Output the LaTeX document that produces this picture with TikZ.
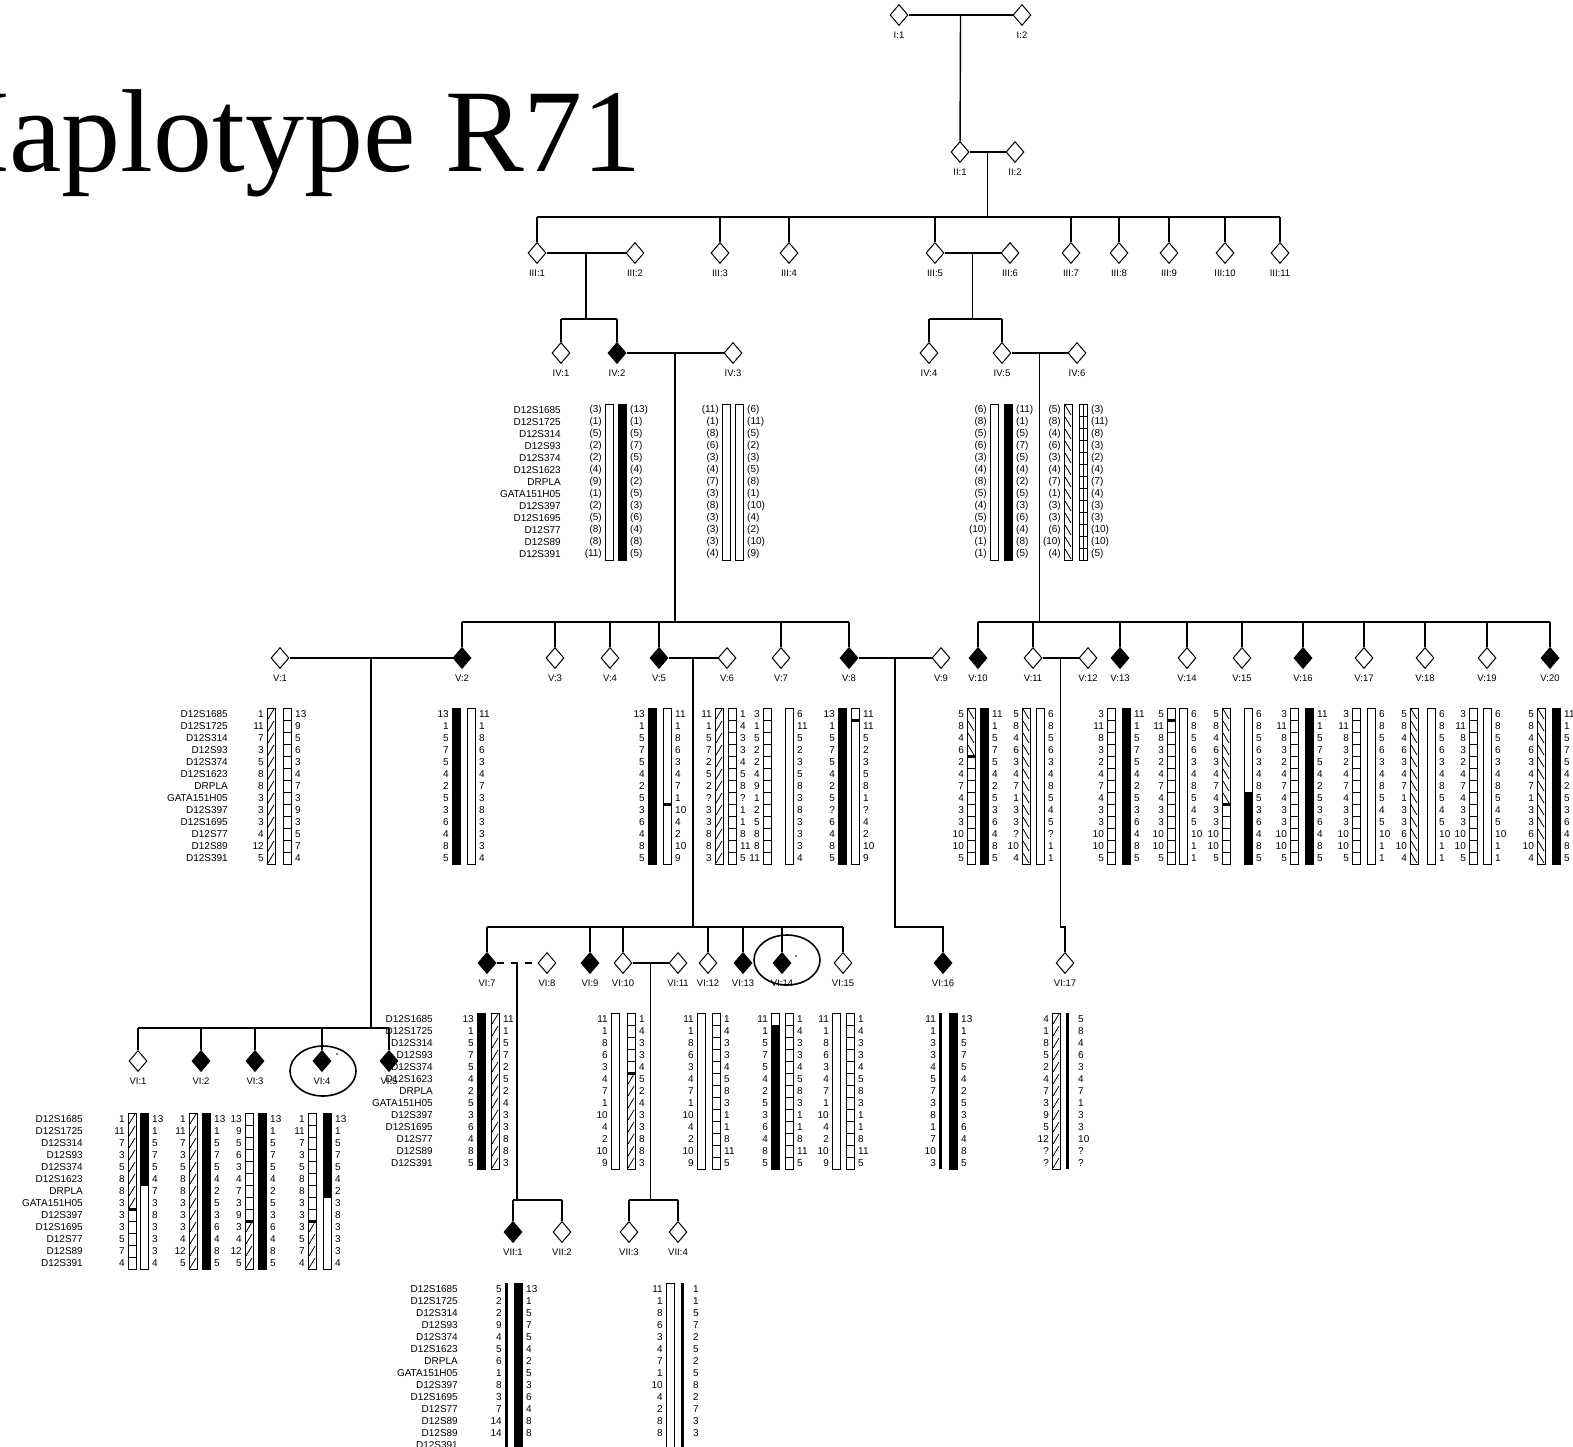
\documentclass[tikz,border=0pt]{standalone}
\usepackage{fontspec}
\setmainfont{Liberation Serif}
\newfontfamily\pixfont{Liberation Sans}
\usetikzlibrary{shapes.geometric, positioning, calc}

\newcommand{\hrow}{12}
\newcommand{\hwid}{8}
\newcommand{\mklist}{D12S1685,D12S1725,D12S314,D12S93,D12S374,D12S1623,DRPLA,GATA151H05,D12S397,D12S1695,D12S77,D12S89,D12S391}
\newcommand{\mklistb}{D12S1685,D12S1725,D12S314,D12S93,D12S374,D12S1623,DRPLA,GATA151H05,D12S397,D12S1695,D12S77,D12S89,D12S89,D12S391}

% bar segments: {x}{top}{first row}{last row}
\newcommand{\sego}[4]{\draw[barline, fill=white] (#1,{#2+(#3-1)*\hrow}) rectangle ({#1+\hwid},{#2+#4*\hrow});}
\newcommand{\segf}[4]{\draw[barline, fill=black] (#1,{#2+(#3-1)*\hrow}) rectangle ({#1+\hwid},{#2+#4*\hrow});}
\newcommand{\segd}[4]{\sego{#1}{#2}{#3}{#4}%
  \foreach \rr in {#3,...,#4}{\draw[hatchline] ({#1+1},{#2+\rr*\hrow-1}) -- ({#1+\hwid-1},{#2+(\rr-1)*\hrow+1});}}
\newcommand{\segb}[4]{\sego{#1}{#2}{#3}{#4}%
  \foreach \rr in {#3,...,#4}{\draw[hatchline] ({#1+1},{#2+(\rr-1)*\hrow+1}) -- ({#1+\hwid-1},{#2+\rr*\hrow-1});}}
\newcommand{\segg}[4]{\foreach \rr in {#3,...,#4}{\draw[barline, fill=white] (#1,{#2+(\rr-1)*\hrow}) rectangle ({#1+\hwid},{#2+\rr*\hrow});}}
\newcommand{\segl}[4]{\segg{#1}{#2}{#3}{#4}\draw[barline] ({#1+\hwid/2},{#2+(#3-1)*\hrow}) -- ({#1+\hwid/2},{#2+#4*\hrow});}
\newcommand{\segk}[4]{\fill (#1,{#2+#3*\hrow-1.5}) rectangle ({#1+\hwid},{#2+#3*\hrow+1.5});}
\newcommand{\segt}[4]{\fill (#1,{#2+(#3-1)*\hrow}) rectangle ({#1+3},{#2+#4*\hrow});}

% haplotype pair: name, x bar 1, x bar 2, top, bar 1, bar 2, left alleles, right alleles
\newcommand{\hapblock}[8]{%
  \foreach \sk/\sa/\sz in {#5}{\csname seg\sk\endcsname{#2}{#4}{\sa}{\sz}}
  \foreach \sk/\sa/\sz in {#6}{\csname seg\sk\endcsname{#3}{#4}{\sa}{\sz}}
  \foreach \v [count=\i] in {#7}{\node[allele, anchor=east] (#1l\i) at ({#2-3},{#4+(\i-0.5)*\hrow}) {\v};}
  \foreach \v [count=\i] in {#8}{\node[allele, anchor=west] (#1r\i) at ({#3+\hwid+4},{#4+(\i-0.5)*\hrow}) {\v};}
}
\newcommand{\markers}[4]{%
  \foreach \m [count=\i] in #4 {\node[marker, anchor=east] (#1\i) at (#2,{#3+(\i-0.5)*\hrow}) {\m};}}
\newcommand{\indiv}[5]{\node[#5] (#1) at (#2,#3) {}; \node[genlab] (#1t) at (#2,{#3+20}) {#4};}

\begin{document}
\begin{tikzpicture}[
    x=1pt, y=-1pt,
    pedline/.style={line width=1.4pt},
    spousedash/.style={line width=1.4pt, dash pattern=on 7pt off 7pt},
    sound/.style={diamond, draw, line width=1pt, fill=white, minimum width=18pt, minimum height=21pt, inner sep=0pt},
    affected/.style={sound, fill=black},
    genlab/.style={font=\pixfont\fontsize{9.5}{10}\selectfont, inner sep=0pt},
    allele/.style={font=\pixfont\fontsize{10}{10}\selectfont, inner sep=0pt},
    marker/.style={allele},
    barline/.style={line width=1pt},
    hatchline/.style={line width=0.8pt},
    ring/.style={ellipse, draw, line width=1.6pt, minimum width=66pt, minimum height=50pt, inner sep=0pt},
    title/.style={font=\fontsize{118}{122}\selectfont, inner sep=0pt}]

    \useasboundingbox (0,0) rectangle (1573,1446);

    \node[title, anchor=base west] (title) at (-76,171) {Haplotype R71};

    % Generations I and II
    \indiv{I1}{899}{15}{I:1}{sound}
    \indiv{I2}{1022}{15}{I:2}{sound}
    \indiv{II1}{960}{152}{II:1}{sound}
    \indiv{II2}{1015}{152}{II:2}{sound}

    % Generation III
    \indiv{III1}{537}{253}{III:1}{sound}
    \indiv{III2}{635}{253}{III:2}{sound}
    \indiv{III3}{720}{253}{III:3}{sound}
    \indiv{III4}{789}{253}{III:4}{sound}
    \indiv{III5}{935}{253}{III:5}{sound}
    \indiv{III6}{1010}{253}{III:6}{sound}
    \indiv{III7}{1071}{253}{III:7}{sound}
    \indiv{III8}{1119}{253}{III:8}{sound}
    \indiv{III9}{1169}{253}{III:9}{sound}
    \indiv{III10}{1225}{253}{III:10}{sound}
    \indiv{III11}{1280}{253}{III:11}{sound}

    % Generation IV
    \indiv{IV1}{561}{353}{IV:1}{sound}
    \indiv{IV2}{617}{353}{IV:2}{affected}
    \indiv{IV3}{733}{353}{IV:3}{sound}
    \indiv{IV4}{929}{353}{IV:4}{sound}
    \indiv{IV5}{1002}{353}{IV:5}{sound}
    \indiv{IV6}{1077}{353}{IV:6}{sound}

    % Generation V
    \indiv{V1}{280}{658}{V:1}{sound}
    \indiv{V2}{462}{658}{V:2}{affected}
    \indiv{V3}{555}{658}{V:3}{sound}
    \indiv{V4}{610}{658}{V:4}{sound}
    \indiv{V5}{659}{658}{V:5}{affected}
    \indiv{V6}{727}{658}{V:6}{sound}
    \indiv{V7}{781}{658}{V:7}{sound}
    \indiv{V8}{849}{658}{V:8}{affected}
    \indiv{V9}{941}{658}{V:9}{sound}
    \indiv{V10}{978}{658}{V:10}{affected}
    \indiv{V11}{1033}{658}{V:11}{sound}
    \indiv{V12}{1088}{658}{V:12}{sound}
    \indiv{V13}{1120}{658}{V:13}{affected}
    \indiv{V14}{1187}{658}{V:14}{sound}
    \indiv{V15}{1242}{658}{V:15}{sound}
    \indiv{V16}{1303}{658}{V:16}{affected}
    \indiv{V17}{1364}{658}{V:17}{sound}
    \indiv{V18}{1425}{658}{V:18}{sound}
    \indiv{V19}{1487}{658}{V:19}{sound}
    \indiv{V20}{1550}{658}{V:20}{affected}

    % Generation VI
    \indiv{VI1}{138}{1061}{VI:1}{sound}
    \indiv{VI2}{201}{1061}{VI:2}{affected}
    \indiv{VI3}{255}{1061}{VI:3}{affected}
    \indiv{VI4}{322}{1061}{VI:4}{affected}
    \indiv{VI5}{389}{1061}{VI:5}{affected}
    \indiv{VI7}{487}{963}{VI:7}{affected}
    \indiv{VI8}{547}{963}{VI:8}{sound}
    \indiv{VI9}{590}{963}{VI:9}{affected}
    \indiv{VI10}{623}{963}{VI:10}{sound}
    \indiv{VI11}{678}{963}{VI:11}{sound}
    \indiv{VI12}{708}{963}{VI:12}{sound}
    \indiv{VI13}{743}{963}{VI:13}{affected}
    \indiv{VI14}{782}{963}{VI:14}{affected}
    \indiv{VI15}{843}{963}{VI:15}{sound}
    \indiv{VI16}{943}{963}{VI:16}{affected}
    \indiv{VI17}{1065}{963}{VI:17}{sound}

    % Generation VII
    \indiv{VII1}{513}{1232}{VII:1}{affected}
    \indiv{VII2}{562}{1232}{VII:2}{sound}
    \indiv{VII3}{629}{1232}{VII:3}{sound}
    \indiv{VII4}{678}{1232}{VII:4}{sound}

    % Sibship levels
    \coordinate (sIII) at (0,217);
    \coordinate (sIV) at (0,319);
    \coordinate (sV) at (0,622);
    \coordinate (sVIa) at (0,1028);
    \coordinate (sVIb) at (0,927);
    \coordinate (sVII) at (0,1200);

    % Marriages and descent lines
    \draw[pedline] (I1) -- coordinate[midway] (mI) (I2);
    \draw[pedline] (mI) -- (II1);
    \draw[pedline] (II1) -- coordinate[midway] (mII) (II2);
    \draw[pedline] (mII) -- (mII |- sIII);
    \draw[pedline] (III1 |- sIII) -- (III11 |- sIII);
    \foreach \c in {III1,III3,III4,III5,III7,III8,III9,III10,III11}
        \draw[pedline] (\c |- sIII) -- (\c);

    \draw[pedline] (III1) -- coordinate[midway] (mIIIa) (III2);
    \draw[pedline] (mIIIa) -- (mIIIa |- sIV);
    \draw[pedline] (IV1 |- sIV) -- (IV2 |- sIV);
    \foreach \c in {IV1,IV2} \draw[pedline] (\c |- sIV) -- (\c);
    \draw[pedline] (III5) -- coordinate[midway] (mIIIb) (III6);
    \draw[pedline] (mIIIb) -- (mIIIb |- sIV);
    \draw[pedline] (IV4 |- sIV) -- (IV5 |- sIV);
    \foreach \c in {IV4,IV5} \draw[pedline] (\c |- sIV) -- (\c);

    \draw[pedline] (IV2) -- coordinate[midway] (mIVa) (IV3);
    \draw[pedline] (mIVa) -- (mIVa |- sV);
    \draw[pedline] (V2 |- sV) -- (V8 |- sV);
    \foreach \c in {V2,V3,V4,V5,V7,V8} \draw[pedline] (\c |- sV) -- (\c);
    \draw[pedline] (IV5) -- coordinate[midway] (mIVb) (IV6);
    \draw[pedline] (mIVb) -- (mIVb |- sV);
    \draw[pedline] (V10 |- sV) -- (V20 |- sV);
    \foreach \c in {V10,V11,V13,V14,V15,V16,V17,V18,V19,V20} \draw[pedline] (\c |- sV) -- (\c);

    \draw[pedline] (V1) -- coordinate[midway] (mVa) (V2);
    \draw[pedline] (mVa) -- (mVa |- sVIa);
    \draw[pedline] (VI1 |- sVIa) -- (VI5 |- sVIa);
    \foreach \c in {VI1,VI2,VI3,VI4,VI5} \draw[pedline] (\c |- sVIa) -- (\c);
    \draw[pedline] (V5) -- coordinate[midway] (mVb) (V6);
    \draw[pedline] (mVb) -- (mVb |- sVIb);
    \draw[pedline] (VI7 |- sVIb) -- (VI15 |- sVIb);
    \foreach \c in {VI7,VI9,VI10,VI12,VI13,VI14,VI15} \draw[pedline] (\c |- sVIb) -- (\c);
    \draw[pedline] (V8) -- coordinate[midway] (mVc) (V9);
    \draw[pedline] (mVc) -- (mVc |- sVIb) -| (VI16);
    \draw[pedline] (V11) -- coordinate[midway] (mVd) (V12);
    \draw[pedline] (mVd) -- (mVd |- sVIb) -| (VI17);

    \draw[spousedash] (VI7) -- coordinate[midway] (mVIa) (VI8);
    \draw[pedline] (mVIa) -- (mVIa |- sVII);
    \draw[pedline] (VII1 |- sVII) -- (VII2 |- sVII);
    \foreach \c in {VII1,VII2} \draw[pedline] (\c |- sVII) -- (\c);
    \draw[pedline] (VI10) -- coordinate[midway] (mVIb) (VI11);
    \draw[pedline] (mVIb) -- (mVIb |- sVII);
    \draw[pedline] (VII3 |- sVII) -- (VII4 |- sVII);
    \foreach \c in {VII3,VII4} \draw[pedline] (\c |- sVII) -- (\c);

    % Probands
    \node[ring] (ringVI14) at (787,960) {};
    \node[ring] (ringVI4) at (323,1071) {};
    \fill (796,956) circle (0.9);
    \fill (337,1054) circle (0.9);

    % Marker columns
    \markers{mkIV}{561}{404}{\mklist}
    \markers{mkV}{228}{708}{\mklist}
    \markers{mkVIb}{433}{1013}{\mklist}
    \markers{mkVIa}{83}{1113}{\mklist}
    \markers{mkVII}{458}{1283}{\mklistb}

    % Haplotypes, generation IV
    \hapblock{hIVb}{605}{618}{404}{o/1/13}{f/1/13}{(3),(1),(5),(2),(2),(4),(9),(1),(2),(5),(8),(8),(11)}{(13),(1),(5),(7),(5),(4),(2),(5),(3),(6),(4),(8),(5)}
    \hapblock{hIVc}{722}{735}{404}{o/1/13}{o/1/13}{(11),(1),(8),(6),(3),(4),(7),(3),(8),(3),(3),(3),(4)}{(6),(11),(5),(2),(3),(5),(8),(1),(10),(4),(2),(10),(9)}
    \hapblock{hIVe}{990}{1004}{404}{o/1/13}{f/1/13}{(6),(8),(5),(6),(3),(4),(8),(5),(4),(5),(10),(1),(1)}{(11),(1),(5),(7),(5),(4),(2),(5),(3),(6),(4),(8),(5)}
    \hapblock{hIVf}{1064}{1079}{404}{b/1/13}{l/1/13}{(5),(8),(4),(6),(3),(4),(7),(1),(3),(3),(6),(10),(4)}{(3),(11),(8),(3),(2),(4),(7),(4),(3),(3),(10),(10),(5)}

    % Haplotypes, generation V
    \hapblock{hVa}{267}{283}{708}{d/1/13}{g/1/13}{1,11,7,3,5,8,8,3,3,3,4,12,5}{13,9,5,6,3,4,7,3,9,3,5,7,4}
    \hapblock{hVb}{452}{467}{708}{f/1/13}{o/1/13}{13,1,5,7,5,4,2,5,3,6,4,8,5}{11,1,8,6,3,4,7,3,8,3,3,3,4}
    \hapblock{hVe}{648}{663}{708}{f/1/13}{o/1/13,k/8/8}{13,1,5,7,5,4,2,5,3,6,4,8,5}{11,1,8,6,3,4,7,1,10,4,2,10,9}
    \hapblock{hVf}{715}{728}{708}{d/1/13}{g/1/13}{11,1,5,7,2,5,2,?,3,3,8,8,3}{1,4,3,3,4,5,8,?,1,1,8,11,5}
    \hapblock{hVg}{763}{785}{708}{g/1/13}{o/1/13}{3,1,5,2,2,4,9,1,2,5,8,8,11}{6,11,5,2,3,5,8,3,8,3,3,3,4}
    \hapblock{hVh}{838}{851}{708}{f/1/13}{o/1/13,k/1/1}{13,1,5,7,5,4,2,5,?,6,4,8,5}{11,11,5,2,3,5,8,1,?,4,2,10,9}
    \hapblock{hVj}{967}{980}{708}{b/1/4,g/5/13,k/4/4}{f/1/13}{5,8,4,6,2,4,7,4,3,3,10,10,5}{11,1,5,7,5,4,2,5,3,6,4,8,5}
    \hapblock{hVk}{1022}{1036}{708}{b/1/13}{o/1/13}{5,8,4,6,3,4,7,1,3,3,?,10,4}{6,8,5,6,3,4,8,5,4,5,?,1,1}
    \hapblock{hVm}{1107}{1122}{708}{g/1/13}{f/1/13}{3,11,8,3,2,4,7,4,3,3,10,10,5}{11,1,5,7,5,4,2,5,3,6,4,8,5}
    \hapblock{hVn}{1167}{1179}{708}{g/1/13,k/1/1}{o/1/13}{5,11,8,3,2,4,7,4,3,3,10,10,5}{6,8,5,6,3,4,8,5,4,5,10,1,1}
    \hapblock{hVo}{1222}{1244}{708}{b/1/8,g/9/13,k/8/8}{o/1/7,f/8/13}{5,8,4,6,3,4,7,4,3,3,10,10,5}{6,8,5,6,3,4,8,5,3,6,4,8,5}
    \hapblock{hVp}{1290}{1305}{708}{g/1/13}{f/1/13}{3,11,8,3,2,4,7,4,3,3,10,10,5}{11,1,5,7,5,4,2,5,3,6,4,8,5}
    \hapblock{hVq}{1352}{1367}{708}{g/1/13}{o/1/13}{3,11,8,3,2,4,7,4,3,3,10,10,5}{6,8,5,6,3,4,8,5,4,5,10,1,1}
    \hapblock{hVr}{1410}{1427}{708}{b/1/13}{o/1/13}{5,8,4,6,3,4,7,1,3,3,6,10,4}{6,8,5,6,3,4,8,5,4,5,10,1,1}
    \hapblock{hVs}{1469}{1483}{708}{g/1/13}{o/1/13}{3,11,8,3,2,4,7,4,3,3,10,10,5}{6,8,5,6,3,4,8,5,4,5,10,1,1}
    \hapblock{hVt}{1537}{1552}{708}{b/1/13}{f/1/13}{5,8,4,6,3,4,7,1,3,3,6,10,4}{11,1,5,7,5,4,2,5,3,6,4,8,5}

    % Haplotypes, generation VI
    \hapblock{hVIa}{128}{140}{1113}{d/1/8,g/9/13,k/8/8}{f/1/6,o/7/13}{1,11,7,3,5,8,8,3,3,3,5,7,4}{13,1,5,7,5,4,7,3,8,3,3,3,4}
    \hapblock{hVIb}{189}{202}{1113}{d/1/13}{f/1/13}{1,11,7,3,5,8,8,3,3,3,4,12,5}{13,1,5,7,5,4,2,5,3,6,4,8,5}
    \hapblock{hVIc}{245}{258}{1113}{g/1/9,d/10/13,k/9/9}{f/1/13}{13,9,5,6,3,4,7,3,9,3,4,12,5}{13,1,5,7,5,4,2,5,3,6,4,8,5}
    \hapblock{hVId}{308}{323}{1113}{g/1/9,d/10/13,k/9/9}{f/1/7,o/8/13}{1,11,7,3,5,8,8,3,3,3,5,7,4}{13,1,5,7,5,4,2,3,8,3,3,3,4}
    \hapblock{hVIg}{477}{491}{1013}{f/1/13}{d/1/13}{13,1,5,7,5,4,2,5,3,6,4,8,5}{11,1,5,7,2,5,2,4,3,3,8,8,3}
    \hapblock{hVIj}{611}{627}{1013}{o/1/13}{g/1/5,d/6/13,k/5/5}{11,1,8,6,3,4,7,1,10,4,2,10,9}{1,4,3,3,4,5,2,4,3,3,8,8,3}
    \hapblock{hVIl}{697}{712}{1013}{o/1/13}{g/1/13}{11,1,8,6,3,4,7,1,10,4,2,10,9}{1,4,3,3,4,5,8,3,1,1,8,11,5}
    \hapblock{hVIm}{771}{785}{1013}{o/1/1,f/2/13}{g/1/13}{11,1,5,7,5,4,2,5,3,6,4,8,5}{1,4,3,3,4,5,8,3,1,1,8,11,5}
    \hapblock{hVIn}{832}{846}{1013}{o/1/13}{g/1/13}{11,1,8,6,3,4,7,1,10,4,2,10,9}{1,4,3,3,4,5,8,3,1,1,8,11,5}
    \hapblock{hVIp}{939}{949}{1013}{t/1/13}{f/1/13}{11,1,3,3,4,5,7,3,8,1,7,10,3}{13,1,5,7,5,4,2,5,3,6,4,8,5}
    \hapblock{hVIq}{1052}{1066}{1013}{d/1/13}{t/1/13}{4,1,8,5,2,4,7,3,9,5,12,?,?}{5,8,4,6,3,4,7,1,3,3,10,?,?}

    % Haplotypes, generation VII
    \hapblock{hVIIa}{505}{514}{1283}{t/1/14}{f/1/14}{5,2,2,9,4,5,6,1,8,3,7,14,14}{13,1,5,7,5,4,2,5,3,6,4,8,8}
    \hapblock{hVIIc}{666}{681}{1283}{o/1/14}{t/1/14}{11,1,8,6,3,4,7,1,10,4,2,8,8}{1,1,5,7,2,5,2,5,8,2,7,3,3}
\end{tikzpicture}
\end{document}
